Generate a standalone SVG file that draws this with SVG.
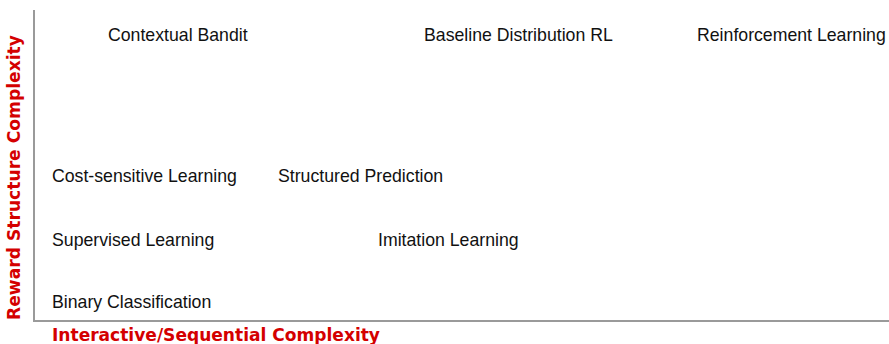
<svg xmlns="http://www.w3.org/2000/svg" width="889" height="344" viewBox="0 0 889 344">
  <style>
    .lbl { font-family: "Liberation Sans", Arial, sans-serif; font-size: 17.7px; fill: #111; }
    .axt { font-family: "DejaVu Sans", Verdana, sans-serif; font-size: 17px; font-weight: bold; fill: #d40000; }
    .axis { stroke: #9a9a9a; stroke-width: 2; fill: none; }
  </style>
  <rect width="889" height="344" fill="#fff"/>
  <g id="axes">
    <polyline class="axis" points="34,10 34,321 889,321"/>
    <text class="axt" x="52" y="341" textLength="328" lengthAdjust="spacingAndGlyphs">Interactive/Sequential Complexity</text>
    <text class="axt" transform="translate(20,320) rotate(-90)" textLength="285" lengthAdjust="spacingAndGlyphs">Reward Structure Complexity</text>
  </g>
  <g id="contextual-bandit"><text class="lbl" x="108" y="41">Contextual Bandit</text></g>
  <g id="baseline-distribution-rl"><text class="lbl" x="424" y="41">Baseline Distribution RL</text></g>
  <g id="reinforcement-learning"><text class="lbl" x="697" y="41">Reinforcement Learning</text></g>
  <g id="cost-sensitive-learning"><text class="lbl" x="52" y="182">Cost-sensitive Learning</text></g>
  <g id="structured-prediction"><text class="lbl" x="278" y="182">Structured Prediction</text></g>
  <g id="supervised-learning"><text class="lbl" x="52" y="246">Supervised Learning</text></g>
  <g id="imitation-learning"><text class="lbl" x="378" y="246">Imitation Learning</text></g>
  <g id="binary-classification"><text class="lbl" x="52" y="308">Binary Classification</text></g>
  <g id="connectors"></g>
</svg>
